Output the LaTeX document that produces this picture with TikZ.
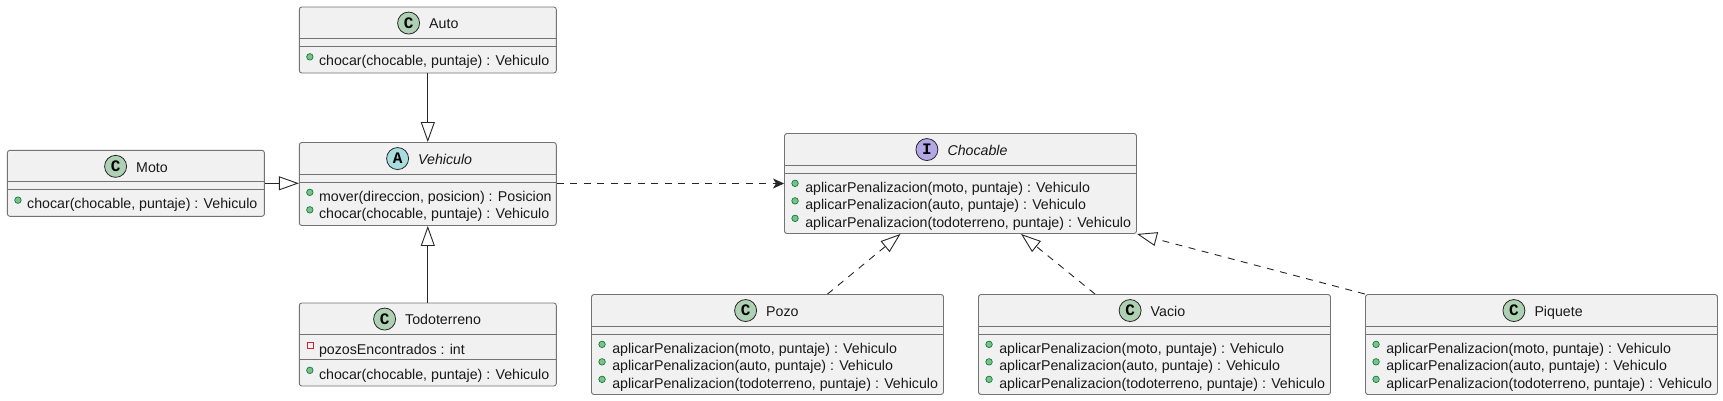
\documentclass[tikz,border=0pt]{standalone}
\usepackage{fontspec}
\usepackage{tikz}
\usetikzlibrary{positioning,arrows.meta}
\setmainfont{Liberation Sans}
\newfontfamily\iconfont{Liberation Mono}
\definecolor{boxfill}{HTML}{F1F1F1}
\definecolor{iconc}{HTML}{ADD1B2}
\definecolor{icona}{HTML}{A9DCDF}
\definecolor{iconi}{HTML}{B4A7E5}
\definecolor{dotfill}{HTML}{84BE84}
\definecolor{dotline}{HTML}{038048}
\definecolor{privline}{HTML}{C82930}

\begin{document}
\begin{tikzpicture}[x=1pt,y=-1pt,font=\fontsize{14.2}{16}\selectfont]
    \tikzstyle{classbox}=[rectangle,draw=black!55,fill=boxfill,line width=0.9pt,rounded corners=2.5pt,inner sep=0pt]
    \tikzstyle{sepline}=[draw=black!55,line width=0.9pt]
    \tikzstyle{classtitle}=[anchor=base west,inner sep=0pt,text height=12pt,text depth=2pt,text=black!90]
    \tikzstyle{icon}=[circle,draw=black!85,line width=0.8pt,minimum size=22pt,inner sep=0pt,font=\iconfont\bfseries\fontsize{16}{16}\selectfont]
    \tikzstyle{member}=[anchor=base west,inner sep=0pt,text=black!90]
    \tikzstyle{pubdot}=[circle,draw=dotline,fill=dotfill,line width=0.7pt,minimum size=6.5pt,inner sep=0pt]
    \tikzstyle{privbox}=[rectangle,draw=privline,line width=0.7pt,minimum size=6pt,inner sep=0pt]
    \tikzstyle{extends}=[draw=black!85,line width=0.9pt,-{Triangle[open,length=20pt,width=14pt,fill=white]}]
    \tikzstyle{implements}=[extends,dash pattern=on 7pt off 6.5pt]
    \tikzstyle{uses}=[draw=black!85,line width=0.9pt,dash pattern=on 7pt off 6.5pt,-{Stealth[length=11pt,width=10pt,inset=3pt]}]

    \useasboundingbox (0,0) rectangle (1723,400);

    % Draw the class boxes
    \foreach \name/\x/\y/\w/\h in {Auto/427.8/40/257/66,Moto/135.9/183.3/257/66,
        Vehiculo/427.8/184/257/83,Todoterreno/427.8/344.5/257/83,Chocable/960.5/183.5/352/100,
        Pozo/767.5/344.5/352/100,Vacio/1154.5/344.5/352/100,Piquete/1541.5/344.5/352/100}
        \node[classbox,minimum width=\w pt,minimum height=\h pt] (\name) at (\x,\y) {};

    % Draw the compartment lines
    \foreach \name/\a/\b in {Auto/32/40,Moto/32/40,Vehiculo/32/40,Todoterreno/32/57,
        Chocable/32/40,Pozo/32/40,Vacio/32/40,Piquete/32/40}
        \foreach \dy in {\a,\b}
            \path[sepline] ([yshift=-\dy pt]\name.north west) -- ([yshift=-\dy pt]\name.north east);

    % Draw the titles and their icons
    \foreach \name/\dx/\col/\letter/\title in {Auto/1.2/iconc/C/Auto,Moto/0.1/iconc/C/Moto,
        Vehiculo/-9.8/icona/A/{\itshape Vehiculo},Todoterreno/-22.8/iconc/C/Todoterreno,
        Chocable/-13.2/iconi/I/{\itshape Chocable},Pozo/-1.5/iconc/C/Pozo,
        Vacio/-4/iconc/C/Vacio,Piquete/-7.2/iconc/C/Piquete} {
        \node[classtitle] (\name-t) at ([shift={(\dx,22.3)}]\name.north) {\title};
        \node[icon,fill=\col,left=9pt of \name-t,yshift=0.8pt] (\name-i) {\letter};
    }

    % Draw the members of the vehicles
    \foreach \name/\i/\dy/\txt in {Auto/1/59/{chocar(chocable, puntaje) : Vehiculo},
        Moto/1/59/{chocar(chocable, puntaje) : Vehiculo},
        Vehiculo/1/59/{mover(direccion, posicion) : Posicion},
        Vehiculo/2/76.5/{chocar(chocable, puntaje) : Vehiculo},
        Todoterreno/2/76.5/{chocar(chocable, puntaje) : Vehiculo}} {
        \node[member] (\name-m\i) at ([shift={(20,\dy)}]\name.north west) {\txt};
        \node[pubdot] (\name-d\i) at ([shift={(11,\dy-8.7)}]\name.north west) {};
    }
    \node[member] (Todoterreno-m1) at ([shift={(20,51.5)}]Todoterreno.north west) {pozosEncontrados : int};
    \node[privbox] (Todoterreno-d1) at ([shift={(11,43)}]Todoterreno.north west) {};

    % Every obstacle has the same three members
    \foreach \name in {Chocable,Pozo,Vacio,Piquete}
        \foreach \i/\dy/\who in {1/59/moto,2/76.5/auto,3/94/todoterreno} {
            \node[member] (\name-m\i) at ([shift={(21,\dy)}]\name.north west) {aplicarPenalizacion(\who, puntaje) : Vehiculo};
            \node[pubdot] (\name-d\i) at ([shift={(11,\dy-8.7)}]\name.north west) {};
        }

    % Connect the vehicles
    \draw[extends] (Auto.south) -- (Vehiculo.north);
    \draw[extends] (Todoterreno.north) -- (Vehiculo.south);
    \draw[extends] (Moto.east) -- (Moto.east -| Vehiculo.west);
    \draw[uses] (Vehiculo.east |- Chocable.west) -- (Chocable.west);

    % Connect the obstacles with the interface
    \draw[implements] ([xshift=60pt]Pozo.north) -- ([xshift=-60pt]Chocable.south);
    \draw[implements] ([xshift=-59.5pt]Vacio.north) -- ([xshift=60.5pt]Chocable.south);
    \draw[implements] (Piquete.north west) -- (Chocable.south east);
\end{tikzpicture}
\end{document}
